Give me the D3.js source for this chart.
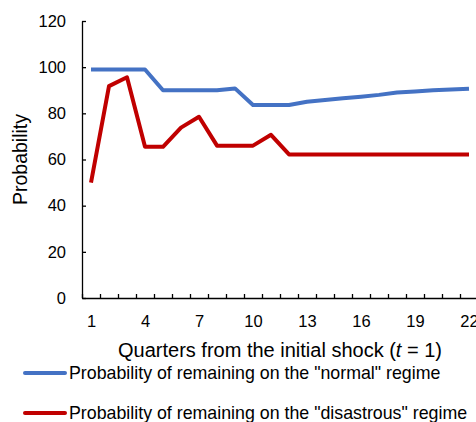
<!DOCTYPE html>
<html>
<head>
<meta charset="utf-8">
<script src="https://cdn.jsdelivr.net/npm/d3@7"></script>
<style>
  body { margin: 0; background: #fff; }
  svg { display: block; font-family: "Liberation Sans", Arial, sans-serif; }
  .axis path, .axis line { stroke: #000; stroke-width: 1.3; }
  .axis text { fill: #000; font-size: 16.5px; }
</style>
</head>
<body>
<div id="chart"></div>
<script>
// data
var quarters = d3.range(1, 23);
var normalRegime = [99, 99, 99, 99, 90, 90, 90, 90, 90.8, 83.6, 83.6, 83.6, 85, 85.8, 86.5, 87.2, 88, 89, 89.5, 90, 90.3, 90.7];
var disastrousRegime = [50, 91.8, 95.6, 65.5, 65.5, 73.8, 78.5, 66, 66, 66, 70.7, 62.2, 62.2, 62.2, 62.2, 62.2, 62.2, 62.2, 62.2, 62.2, 62.2, 62.2];
var yTicks = [0, 20, 40, 60, 80, 100, 120];
var xLabels = [1, 4, 7, 10, 13, 16, 19, 22];
var seriesNames = ['Probability of remaining on the "normal" regime', 'Probability of remaining on the "disastrous" regime'];
var seriesColors = ['#4472C4', '#C00000'];

var width = 476, height = 422;
var plotLeft = 82, plotTop = 21, plotBottom = 298, step = 18;

var svg = d3.select("#chart").append("svg")
	.attr("width", width)
	.attr("height", height);

var x = d3.scaleLinear()
	.domain([0.5, quarters.length + 0.5])
	.range([plotLeft, plotLeft + quarters.length * step]);

var y = d3.scaleLinear()
	.domain([0, 120])
	.range([plotBottom, plotTop]);

// y axis, ticks pointing inwards
svg.append("g")
	.attr("class", "axis")
	.attr("transform", "translate(" + plotLeft + ",0)")
	.call(d3.axisLeft(y).tickValues(yTicks).tickSizeInner(-4).tickSizeOuter(0).tickPadding(16));

// x axis: tick marks between quarters
var boundaries = d3.range(0.5, quarters.length + 1, 1);
svg.append("g")
	.attr("class", "axis")
	.attr("transform", "translate(0," + plotBottom + ")")
	.call(d3.axisBottom(x).tickValues(boundaries).tickFormat("").tickSizeInner(-4).tickSizeOuter(0));

// x labels every third quarter
var xl = svg.append("g")
	.attr("class", "axis")
	.attr("transform", "translate(0," + plotBottom + ")")
	.call(d3.axisBottom(x).tickValues(xLabels).tickSize(0).tickPadding(17));
xl.select(".domain").remove();

// lines
var line = d3.line()
	.x(function(d, i) { return x(quarters[i]); })
	.y(function(d) { return y(d); });

[normalRegime, disastrousRegime].forEach(function(s, i) {
	svg.append("path")
		.datum(s)
		.attr("d", line)
		.attr("fill", "none")
		.attr("stroke", seriesColors[i])
		.attr("stroke-width", 4)
		.attr("stroke-linejoin", "round");
});

// axis titles
svg.append("text")
	.attr("transform", "translate(27," + ((plotTop + plotBottom) / 2) + ") rotate(-90)")
	.attr("text-anchor", "middle")
	.style("font-size", "19.5px")
	.text("Probability");

var xt = svg.append("text")
	.attr("x", 280)
	.attr("y", 357)
	.attr("text-anchor", "middle")
	.style("font-size", "20px");
xt.append("tspan").text("Quarters from the initial shock (");
xt.append("tspan").style("font-style", "italic").text("t");
xt.append("tspan").text(" = 1)");

// legend
var legend = svg.selectAll(".legend")
	.data(seriesNames)
	.enter().append("g")
	.attr("class", "legend")
	.attr("transform", function(d, i) { return "translate(0," + (373 + i * 40) + ")"; });

legend.append("line")
	.attr("x1", 25).attr("x2", 65)
	.attr("stroke", function(d, i) { return seriesColors[i]; })
	.attr("stroke-width", 4)
	.attr("stroke-linecap", "round");

legend.append("text")
	.attr("x", 69)
	.attr("y", 6)
	.style("font-size", "17.8px")
	.text(function(d) { return d; });
</script>
</body>
</html>
